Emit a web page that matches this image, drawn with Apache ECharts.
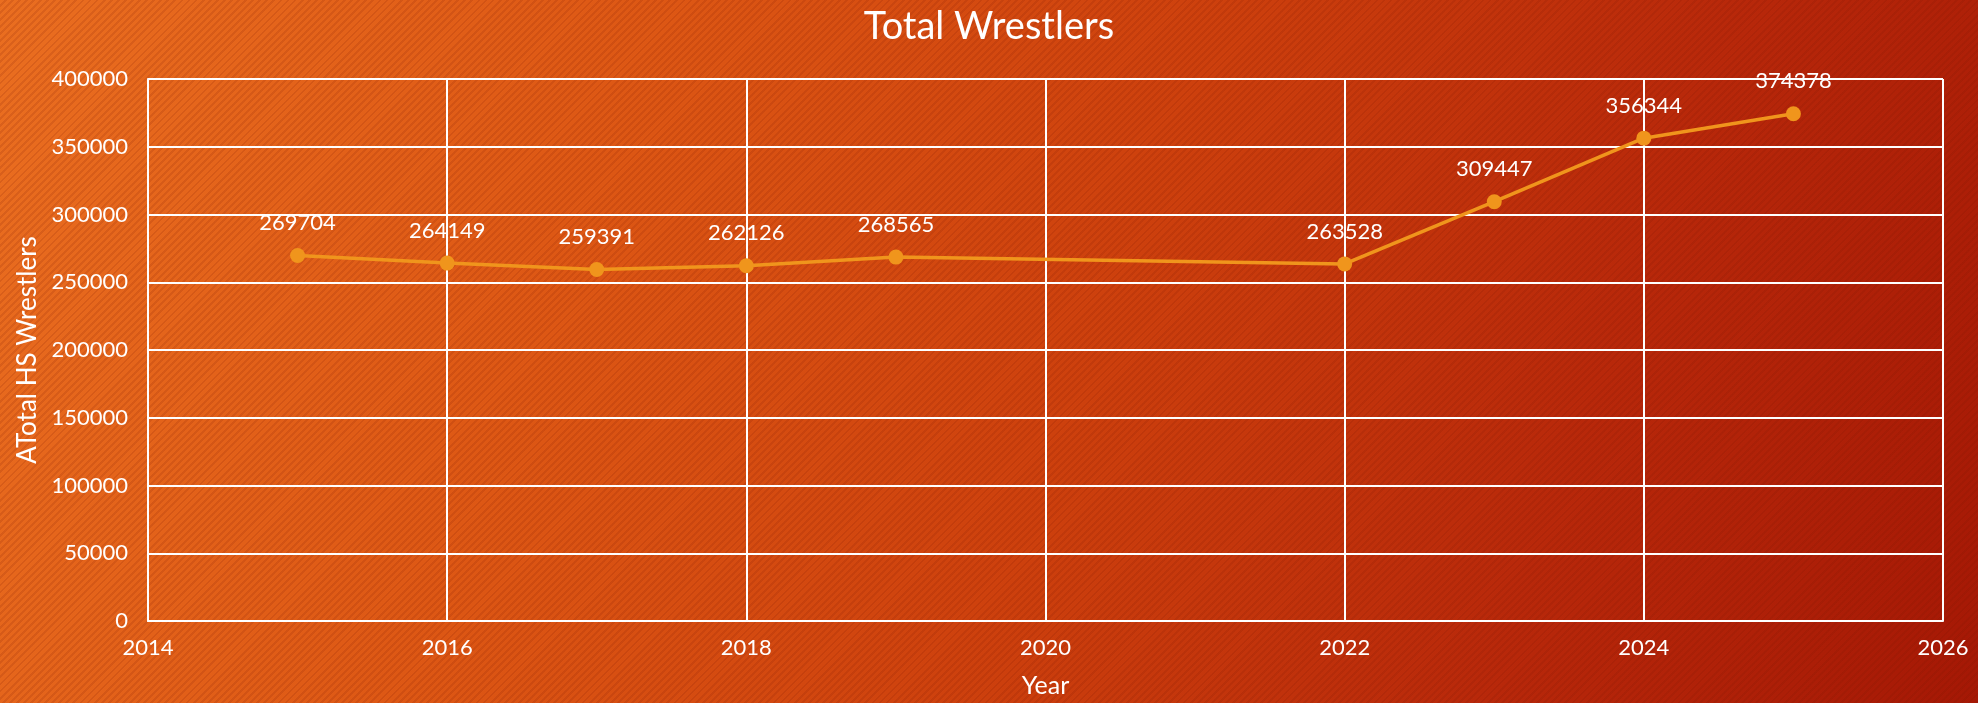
<!DOCTYPE html>
<html>
<head>
<meta charset="utf-8">
<script src="https://cdn.jsdelivr.net/npm/echarts@6/dist/echarts.min.js"></script>
<style>
html,body{margin:0;padding:0;width:1978px;height:703px;overflow:hidden;}
body{
  background:
    repeating-linear-gradient(135deg, rgba(0,0,0,0) 0px, rgba(0,0,0,0) 3px, rgba(120,20,0,0.14) 3px, rgba(120,20,0,0.14) 5px),
    linear-gradient(110deg, #EA6E20 0%, #DD5714 30%, #CD400D 55%, #B8280A 78%, #A51805 100%);
}
#chart{width:1978px;height:703px;}
</style>
</head>
<body>
<div id="chart"></div>
<script>
var years = [2015, 2016, 2017, 2018, 2019, 2022, 2023, 2024, 2025];
var wrestlers = [269704, 264149, 259391, 262126, 268565, 263528, 309447, 356344, 374378];
var titleText = 'Total Wrestlers';
var xName = 'Year';
var yName = 'ATotal HS Wrestlers';

var points = years.map(function (y, i) { return [y, wrestlers[i]]; });
var font = 'Lato, "Open Sans", sans-serif';

var chart = echarts.init(document.getElementById('chart'));
chart.setOption({
  backgroundColor: 'transparent',
  textStyle: { fontFamily: font },
  title: {
    text: titleText,
    left: 'center',
    top: 3,
    textStyle: { color: '#ffffff', fontSize: 38, fontWeight: 'normal', fontFamily: font }
  },
  grid: { left: 148, right: 35, top: 79, bottom: 81 },
  xAxis: {
    type: 'value',
    min: 2014, max: 2026, interval: 2,
    name: xName,
    nameLocation: 'middle',
    nameGap: 52,
    nameTextStyle: { color: '#ffffff', fontSize: 25, fontFamily: font },
    axisLine: { show: true, lineStyle: { color: '#ffffff', width: 2 } },
    axisTick: { show: false },
    axisLabel: { color: '#ffffff', fontSize: 22, margin: 16, fontFamily: font, formatter: function (v) { return String(v); } },
    splitLine: { show: true, lineStyle: { color: '#ffffff', width: 2 } }
  },
  yAxis: {
    type: 'value',
    min: 0, max: 400000, interval: 50000,
    name: yName,
    nameLocation: 'middle',
    nameGap: 107,
    nameTextStyle: { color: '#ffffff', fontSize: 26, fontFamily: font },
    axisLine: { show: true, lineStyle: { color: '#ffffff', width: 2 } },
    axisTick: { show: false },
    axisLabel: { color: '#ffffff', fontSize: 22, margin: 20, fontFamily: font, formatter: function (v) { return String(v); } },
    splitLine: { show: true, lineStyle: { color: '#ffffff', width: 2 } }
  },
  series: [{
    type: 'line',
    data: points,
    symbol: 'circle',
    symbolSize: 15,
    lineStyle: { color: '#F0951C', width: 3.5 },
    itemStyle: { color: '#F0951C' },
    label: {
      show: true,
      position: 'top',
      distance: 14,
      color: '#ffffff',
      fontSize: 22,
      fontFamily: font,
      formatter: function (p) { return String(p.value[1]); }
    },
    animation: false
  }],
  animation: false
});
</script>
</body>
</html>
